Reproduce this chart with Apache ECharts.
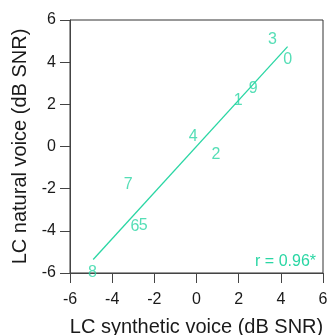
<!DOCTYPE html>
<html>
<head>
<meta charset="utf-8">
<script src="https://cdn.jsdelivr.net/npm/echarts@6/dist/echarts.min.js"></script>
<style>
  html, body { margin: 0; padding: 0; background: #fff; }
  #chart { width: 330px; height: 335px; }
</style>
</head>
<body>
<div id="chart"></div>
<script>
// point labels (digit ids) with their synthetic / natural voice values
const labels = ["0", "1", "2", "3", "4", "5", "6", "7", "8", "9"]
const syntheticSNR = [4.32, 1.98, 0.92, 3.6, -0.16, -2.53, -2.92, -3.24, -4.93, 2.69]
const naturalSNR = [4.21, 2.27, -0.31, 5.18, 0.57, -3.66, -3.69, -1.72, -5.9, 2.85]

// fitted line endpoints
const fitX = [-4.9, 4.32]
const fitY = [-5.36, 4.74]

const tickValues = [-6, -4, -2, 0, 2, 4, 6]
const rText = "r = 0.96*"

const teal = "#2ad6a4"
const font = "Liberation Sans, Arial, sans-serif"

const chart = echarts.init(document.getElementById("chart"), null, { renderer: "canvas" })

const points = labels.map((l, i) => [syntheticSNR[i], naturalSNR[i], l])
const fitLine = fitX.map((x, i) => [x, fitY[i]])

const axisCommon = {
  type: "value",
  min: tickValues[0],
  max: tickValues[tickValues.length - 1],
  interval: 2,
  splitLine: { show: false },
  axisLine: { show: true, onZero: false, lineStyle: { color: "#444", width: 1 } },
  axisTick: { show: true, inside: false, length: 10, lineStyle: { color: "#444" } },
  axisLabel: { color: "#1a1a1a", fontSize: 16, fontFamily: font },
  nameLocation: "middle",
  nameTextStyle: { color: "#1a1a1a", fontSize: 20, fontFamily: font },
}

chart.setOption({
  animation: false,
  grid: {
    left: 70, right: 7, top: 20, bottom: 62,
    show: true, borderColor: "#333", borderWidth: 1,
    containLabel: false,
    outerBoundsMode: "none",
  },
  xAxis: Object.assign({}, axisCommon, {
    name: "LC synthetic voice (dB SNR)",
    nameGap: 44,
    axisLabel: Object.assign({}, axisCommon.axisLabel, { margin: 19 }),
  }),
  yAxis: Object.assign({}, axisCommon, {
    name: "LC natural voice (dB SNR)",
    nameGap: 32,
    axisLabel: Object.assign({}, axisCommon.axisLabel, { margin: 14 }),
  }),
  graphic: [{
    type: "text",
    right: 14,
    top: 254,
    style: { text: rText, fill: teal, fontSize: 16, fontFamily: font },
  }],
  series: [
    {
      type: "line",
      data: fitLine,
      showSymbol: false,
      lineStyle: { color: teal, width: 1.3 },
      silent: true,
    },
    {
      type: "scatter",
      data: points,
      symbolSize: 1,
      itemStyle: { color: "rgba(0,0,0,0)" },
      clip: false,
      label: {
        show: true,
        position: "inside",
        offset: [0, 2],
        formatter: (p) => p.value[2],
        color: teal,
        fontSize: 16,
        fontFamily: font,
      },
      silent: true,
    },
  ],
})
</script>
</body>
</html>
